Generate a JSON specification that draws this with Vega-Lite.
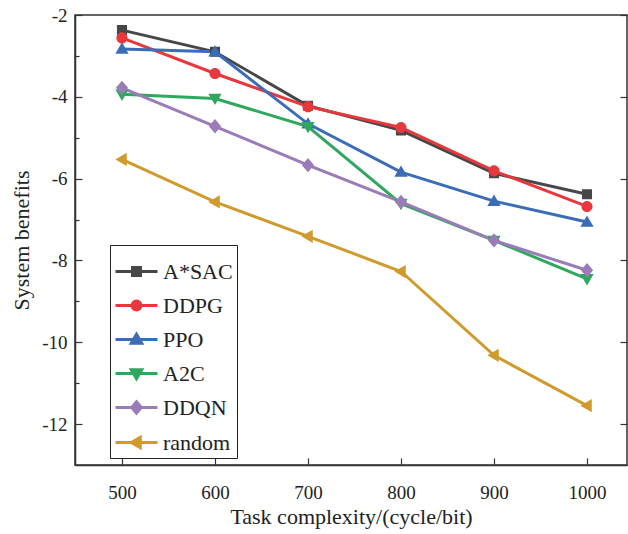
{
  "$schema": "https://vega.github.io/schema/vega-lite/v6.json",
  "autosize": "none",
  "width": 552,
  "height": 450,
  "padding": {"left": 75, "top": 15, "right": 1, "bottom": 69},
  "background": "white",
  "config": {
    "view": {"stroke": "#333", "strokeWidth": 1.5},
    "font": "Liberation Serif",
    "style": {"guide-label": {"font": "Liberation Serif"}, "guide-title": {"font": "Liberation Serif"}},
    "axis": {"labelFont": "Liberation Serif", "titleFont": "Liberation Serif", "labelColor": "#222", "titleColor": "#222", "titleFontWeight": "normal", "grid": false, "domainColor": "#333", "domainWidth": 1.5, "tickColor": "#333", "tickWidth": 1.2},
    "legend": {"labelFont": "Liberation Serif"}
  },
  "data": {"values": [
    {"x": 500, "y": -2.37, "method": "A*SAC"},
    {"x": 600, "y": -2.90, "method": "A*SAC"},
    {"x": 700, "y": -4.22, "method": "A*SAC"},
    {"x": 800, "y": -4.82, "method": "A*SAC"},
    {"x": 900, "y": -5.87, "method": "A*SAC"},
    {"x": 1000, "y": -6.38, "method": "A*SAC"},
    {"x": 500, "y": -2.56, "method": "DDPG"},
    {"x": 600, "y": -3.43, "method": "DDPG"},
    {"x": 700, "y": -4.24, "method": "DDPG"},
    {"x": 800, "y": -4.75, "method": "DDPG"},
    {"x": 900, "y": -5.81, "method": "DDPG"},
    {"x": 1000, "y": -6.68, "method": "DDPG"},
    {"x": 500, "y": -2.83, "method": "PPO"},
    {"x": 600, "y": -2.90, "method": "PPO"},
    {"x": 700, "y": -4.66, "method": "PPO"},
    {"x": 800, "y": -5.84, "method": "PPO"},
    {"x": 900, "y": -6.55, "method": "PPO"},
    {"x": 1000, "y": -7.06, "method": "PPO"},
    {"x": 500, "y": -3.94, "method": "A2C"},
    {"x": 600, "y": -4.04, "method": "A2C"},
    {"x": 700, "y": -4.73, "method": "A2C"},
    {"x": 800, "y": -6.61, "method": "A2C"},
    {"x": 900, "y": -7.51, "method": "A2C"},
    {"x": 1000, "y": -8.45, "method": "A2C"},
    {"x": 500, "y": -3.78, "method": "DDQN"},
    {"x": 600, "y": -4.72, "method": "DDQN"},
    {"x": 700, "y": -5.67, "method": "DDQN"},
    {"x": 800, "y": -6.57, "method": "DDQN"},
    {"x": 900, "y": -7.51, "method": "DDQN"},
    {"x": 1000, "y": -8.24, "method": "DDQN"},
    {"x": 500, "y": -5.53, "method": "random"},
    {"x": 600, "y": -6.57, "method": "random"},
    {"x": 700, "y": -7.41, "method": "random"},
    {"x": 800, "y": -8.27, "method": "random"},
    {"x": 900, "y": -10.32, "method": "random"},
    {"x": 1000, "y": -11.55, "method": "random"}
  ]},
  "encoding": {
    "x": {"field": "x", "type": "quantitative",
      "scale": {"domain": [449.5, 1043], "nice": false, "zero": false},
      "axis": {"values": [500, 600, 700, 800, 900, 1000], "tickSize": -7, "labelExpr": "'' + datum.value", "labelFont": "Liberation Serif", "labelFontSize": 19, "labelPadding": 25, "title": "Task complexity/(cycle/bit)", "titleFont": "Liberation Serif", "titleFontSize": 22, "titlePadding": 4, "labelFlush": false}},
    "y": {"field": "y", "type": "quantitative",
      "scale": {"domain": [-13, -2], "nice": false, "zero": false}},
    "color": {"field": "method", "type": "nominal",
      "scale": {"domain": ["A*SAC", "DDPG", "PPO", "A2C", "DDQN", "random"],
        "range": ["#474747", "#e8383d", "#3a6cb8", "#2ea85e", "#9b7bb8", "#d09a2c"]},
      "legend": {
        "orient": "none", "legendX": 35, "legendY": 230,
        "title": null,
        "labelFont": "Liberation Serif",
        "labelFontSize": 22, "labelColor": "#222", "labelOffset": 4,
        "rowPadding": 0, "padding": 4,
        "strokeColor": "#222", "fillColor": "white",
        "symbolSize": 1764, "symbolStrokeWidth": 3, "symbolOpacity": 1
      }
    }
  },
  "layer": [
    {
      "mark": {"type": "line", "strokeWidth": 3},
      "encoding": {
        "y": {"field": "y", "type": "quantitative",
          "axis": {"orient": "left", "values": [-12, -11, -10, -9, -8, -7, -6, -5, -4, -3, -2],
            "tickSize": {"condition": {"test": "datum.value % 2 === 0", "value": -7}, "value": -4},
            "labelExpr": "datum.value % 2 === 0 ? '' + datum.value : ''",
            "labelFont": "Liberation Serif",
            "labelFontSize": 19, "labelPadding": 15,
            "title": "System benefits", "titleFont": "Liberation Serif", "titleFontSize": 22, "titlePadding": 8}}
      }
    },
    {
      "mark": {"type": "point", "filled": true, "opacity": 1, "size": 2809},
      "encoding": {
        "shape": {"field": "method", "type": "nominal",
          "scale": {"domain": ["A*SAC", "DDPG", "PPO", "A2C", "DDQN", "random"],
            "range": [
              "M-1,0H1M-0.19,-0.19H0.19V0.19H-0.19Z",
              "M-1,0H1M-0.21,0A0.21,0.21,0,1,0,0.21,0A0.21,0.21,0,1,0,-0.21,0Z",
              "M-1,0H1M0,-0.25L0.25,0.18H-0.25Z",
              "M-1,0H1M0,0.25L0.25,-0.18H-0.25Z",
              "M-1,0H1M0,-0.27L0.23,0L0,0.27L-0.23,0Z",
              "M-1,0H1M-0.25,0L0.18,-0.25V0.25Z"
            ]}},
        "y": {"field": "y", "type": "quantitative",
          "axis": {"orient": "right", "values": [-12, -10, -8, -6, -4, -2], "tickSize": -7, "labels": false, "domain": false, "title": null}}
      }
    }
  ],
  "resolve": {"axis": {"y": "independent"}}
}
